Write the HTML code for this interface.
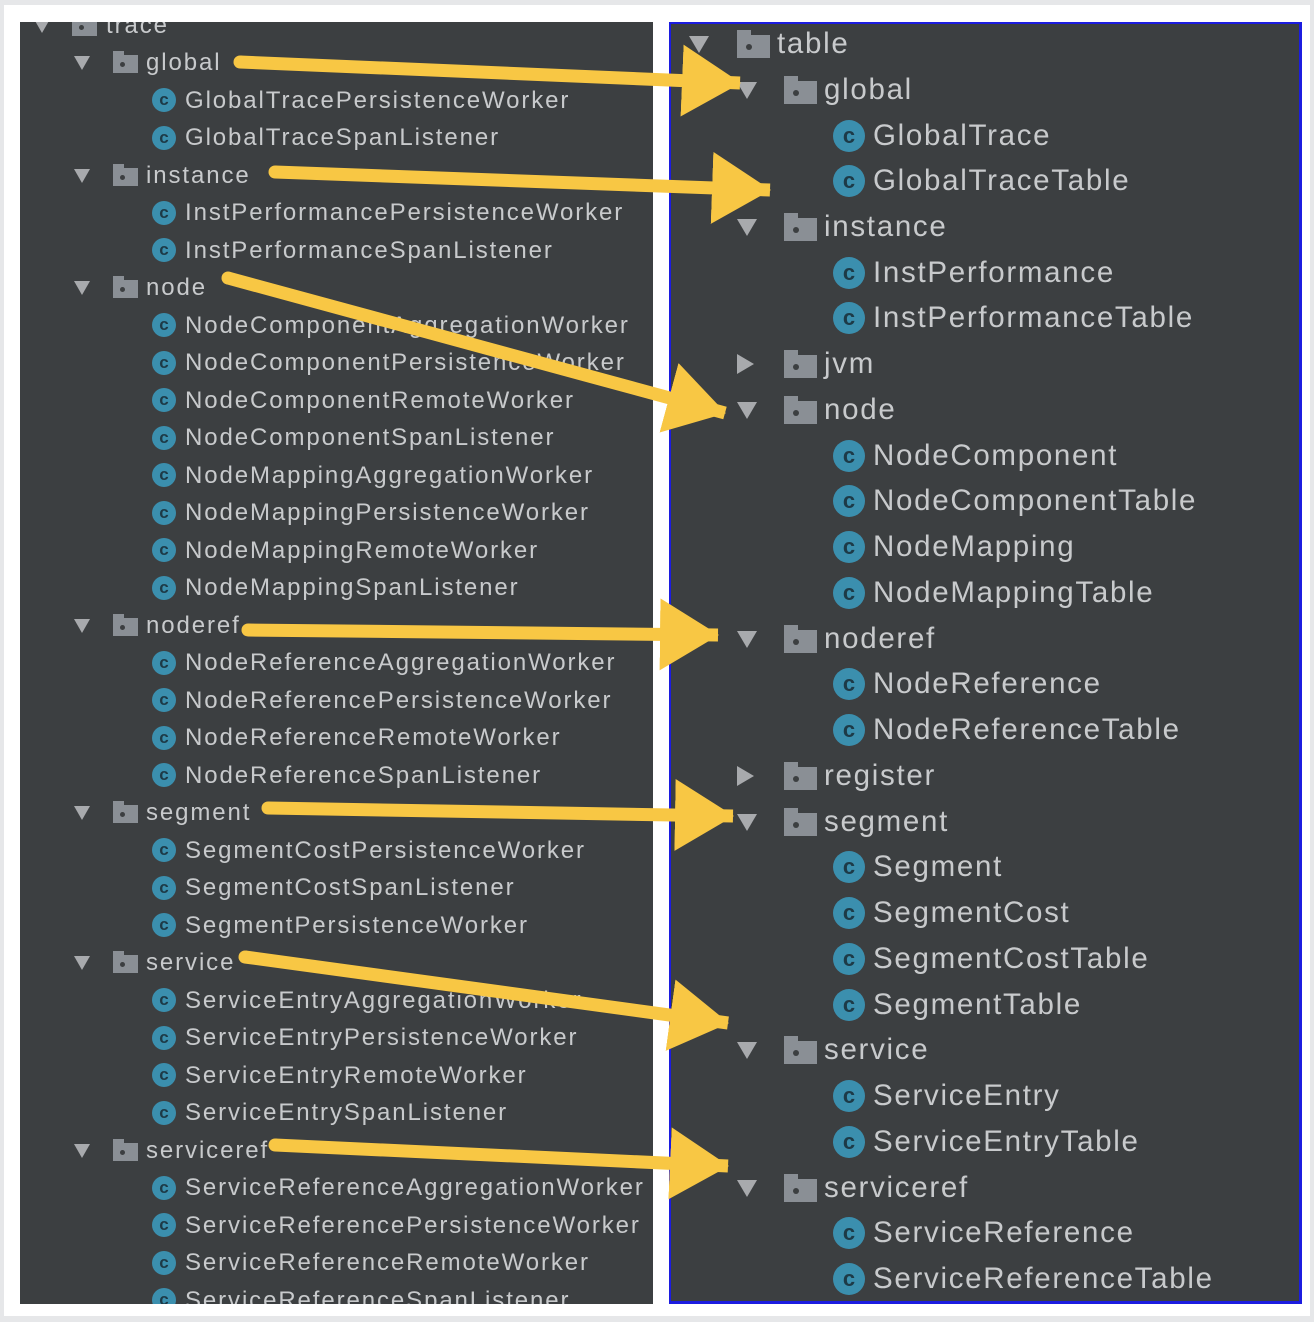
<!DOCTYPE html>
<html><head><meta charset="utf-8"><style>
*{margin:0;padding:0;box-sizing:border-box}
html,body{width:1314px;height:1322px;overflow:hidden;background:#e6e7e9}
#card{position:absolute;left:4px;top:5px;width:1306px;height:1311px;background:#fff}
.p{position:absolute;top:22px;width:633px;height:1282px;background:#3c3f41;overflow:hidden;font-family:"Liberation Sans",sans-serif;color:#c8cacc}
#L{left:20px}
#R{left:669px;border:2px solid #1c1ce0;border-right-width:3px;border-bottom-width:3px}
.r{position:absolute;left:0;width:100%;white-space:nowrap}
#L .r{height:37px;line-height:37px;font-size:24px;letter-spacing:1.9px}
#R .r{height:46px;line-height:46px;font-size:29.5px;letter-spacing:1.7px}
.r>*{position:absolute}
.tri{width:0;height:0;border-left:8px solid transparent;border-right:8px solid transparent;border-top:14px solid #a8aaad;top:12px}
#R .tri{border-left-width:10px;border-right-width:10px;border-top-width:17px;top:15px}
#R .tri.c{border-top:10px solid transparent;border-bottom:10px solid transparent;border-left:17px solid #a8aaad;border-right:0;top:13px}
.fo{width:25px;height:18px;background:#8a8f95;top:11px}
.fo:before{content:"";position:absolute;left:0;top:-4px;width:11px;height:5px;background:#8a8f95}
.fo:after{content:"";position:absolute;left:7px;top:7px;width:5px;height:5px;border-radius:50%;background:#3c3f41}
#R .fo{width:33px;height:23px;top:14px}
#R .fo:before{width:14px;height:6px;top:-5px}
#R .fo:after{left:9px;top:9px;width:6px;height:6px}
.ci{width:24px;height:24px;border-radius:50%;background:#3b8fae;top:6.5px;font-size:17px;line-height:23px;text-align:center;color:#1d3a47;letter-spacing:0;font-weight:bold}
#R .ci{width:32px;height:32px;top:7px;font-size:22px;line-height:31px}
#L .l0 .tri{left:14px}#L .l0 .fo{left:52px}#L .l0 span{left:86px}
#L .l1 .tri{left:54px}#L .l1 .fo{left:93px}#L .l1 span{left:126px}
#L .lc .ci{left:132px}#L .lc span{left:165px}
#R .l0 .tri{left:18px}#R .l0 .fo{left:66px}#R .l0 span{left:106px}
#R .l1 .tri{left:66px}#R .l1 .fo{left:113px}#R .l1 span{left:153px}
#R .lc .ci{left:162px}#R .lc span{left:202px}
svg{position:absolute;left:0;top:0}
</style></head><body>
<div id="card"></div>
<div id="L" class="p">
<div class="r l0" style="top:-15.5px"><i class="tri"></i><b class="fo"></b><span>trace</span></div>
<div class="r l1" style="top:22px"><i class="tri"></i><b class="fo"></b><span>global</span></div>
<div class="r lc" style="top:59.5px"><b class="ci">c</b><span>GlobalTracePersistenceWorker</span></div>
<div class="r lc" style="top:97px"><b class="ci">c</b><span>GlobalTraceSpanListener</span></div>
<div class="r l1" style="top:134.5px"><i class="tri"></i><b class="fo"></b><span>instance</span></div>
<div class="r lc" style="top:172px"><b class="ci">c</b><span>InstPerformancePersistenceWorker</span></div>
<div class="r lc" style="top:209.5px"><b class="ci">c</b><span>InstPerformanceSpanListener</span></div>
<div class="r l1" style="top:247px"><i class="tri"></i><b class="fo"></b><span>node</span></div>
<div class="r lc" style="top:284.5px"><b class="ci">c</b><span>NodeComponentAggregationWorker</span></div>
<div class="r lc" style="top:322px"><b class="ci">c</b><span>NodeComponentPersistenceWorker</span></div>
<div class="r lc" style="top:359.5px"><b class="ci">c</b><span>NodeComponentRemoteWorker</span></div>
<div class="r lc" style="top:397px"><b class="ci">c</b><span>NodeComponentSpanListener</span></div>
<div class="r lc" style="top:434.5px"><b class="ci">c</b><span>NodeMappingAggregationWorker</span></div>
<div class="r lc" style="top:472px"><b class="ci">c</b><span>NodeMappingPersistenceWorker</span></div>
<div class="r lc" style="top:509.5px"><b class="ci">c</b><span>NodeMappingRemoteWorker</span></div>
<div class="r lc" style="top:547px"><b class="ci">c</b><span>NodeMappingSpanListener</span></div>
<div class="r l1" style="top:584.5px"><i class="tri"></i><b class="fo"></b><span>noderef</span></div>
<div class="r lc" style="top:622px"><b class="ci">c</b><span>NodeReferenceAggregationWorker</span></div>
<div class="r lc" style="top:659.5px"><b class="ci">c</b><span>NodeReferencePersistenceWorker</span></div>
<div class="r lc" style="top:697px"><b class="ci">c</b><span>NodeReferenceRemoteWorker</span></div>
<div class="r lc" style="top:734.5px"><b class="ci">c</b><span>NodeReferenceSpanListener</span></div>
<div class="r l1" style="top:772px"><i class="tri"></i><b class="fo"></b><span>segment</span></div>
<div class="r lc" style="top:809.5px"><b class="ci">c</b><span>SegmentCostPersistenceWorker</span></div>
<div class="r lc" style="top:847px"><b class="ci">c</b><span>SegmentCostSpanListener</span></div>
<div class="r lc" style="top:884.5px"><b class="ci">c</b><span>SegmentPersistenceWorker</span></div>
<div class="r l1" style="top:922px"><i class="tri"></i><b class="fo"></b><span>service</span></div>
<div class="r lc" style="top:959.5px"><b class="ci">c</b><span>ServiceEntryAggregationWorker</span></div>
<div class="r lc" style="top:997px"><b class="ci">c</b><span>ServiceEntryPersistenceWorker</span></div>
<div class="r lc" style="top:1034.5px"><b class="ci">c</b><span>ServiceEntryRemoteWorker</span></div>
<div class="r lc" style="top:1072px"><b class="ci">c</b><span>ServiceEntrySpanListener</span></div>
<div class="r l1" style="top:1109.5px"><i class="tri"></i><b class="fo"></b><span>serviceref</span></div>
<div class="r lc" style="top:1147px"><b class="ci">c</b><span>ServiceReferenceAggregationWorker</span></div>
<div class="r lc" style="top:1184.5px"><b class="ci">c</b><span>ServiceReferencePersistenceWorker</span></div>
<div class="r lc" style="top:1222px"><b class="ci">c</b><span>ServiceReferenceRemoteWorker</span></div>
<div class="r lc" style="top:1259.5px"><b class="ci">c</b><span>ServiceReferenceSpanListener</span></div>
</div>
<div id="R" class="p">
<div class="r l0" style="top:-3px"><i class="tri"></i><b class="fo"></b><span>table</span></div>
<div class="r l1" style="top:42.7px"><i class="tri"></i><b class="fo"></b><span>global</span></div>
<div class="r lc" style="top:88.5px"><b class="ci">c</b><span>GlobalTrace</span></div>
<div class="r lc" style="top:134.2px"><b class="ci">c</b><span>GlobalTraceTable</span></div>
<div class="r l1" style="top:180px"><i class="tri"></i><b class="fo"></b><span>instance</span></div>
<div class="r lc" style="top:225.7px"><b class="ci">c</b><span>InstPerformance</span></div>
<div class="r lc" style="top:271.4px"><b class="ci">c</b><span>InstPerformanceTable</span></div>
<div class="r l1" style="top:317.2px"><i class="tri c"></i><b class="fo"></b><span>jvm</span></div>
<div class="r l1" style="top:362.9px"><i class="tri"></i><b class="fo"></b><span>node</span></div>
<div class="r lc" style="top:408.7px"><b class="ci">c</b><span>NodeComponent</span></div>
<div class="r lc" style="top:454.4px"><b class="ci">c</b><span>NodeComponentTable</span></div>
<div class="r lc" style="top:500.1px"><b class="ci">c</b><span>NodeMapping</span></div>
<div class="r lc" style="top:545.9px"><b class="ci">c</b><span>NodeMappingTable</span></div>
<div class="r l1" style="top:591.6px"><i class="tri"></i><b class="fo"></b><span>noderef</span></div>
<div class="r lc" style="top:637.4px"><b class="ci">c</b><span>NodeReference</span></div>
<div class="r lc" style="top:683.1px"><b class="ci">c</b><span>NodeReferenceTable</span></div>
<div class="r l1" style="top:728.8px"><i class="tri c"></i><b class="fo"></b><span>register</span></div>
<div class="r l1" style="top:774.6px"><i class="tri"></i><b class="fo"></b><span>segment</span></div>
<div class="r lc" style="top:820.3px"><b class="ci">c</b><span>Segment</span></div>
<div class="r lc" style="top:866.1px"><b class="ci">c</b><span>SegmentCost</span></div>
<div class="r lc" style="top:911.8px"><b class="ci">c</b><span>SegmentCostTable</span></div>
<div class="r lc" style="top:957.5px"><b class="ci">c</b><span>SegmentTable</span></div>
<div class="r l1" style="top:1003.3px"><i class="tri"></i><b class="fo"></b><span>service</span></div>
<div class="r lc" style="top:1049px"><b class="ci">c</b><span>ServiceEntry</span></div>
<div class="r lc" style="top:1094.8px"><b class="ci">c</b><span>ServiceEntryTable</span></div>
<div class="r l1" style="top:1140.5px"><i class="tri"></i><b class="fo"></b><span>serviceref</span></div>
<div class="r lc" style="top:1186.2px"><b class="ci">c</b><span>ServiceReference</span></div>
<div class="r lc" style="top:1232px"><b class="ci">c</b><span>ServiceReferenceTable</span></div>
</div>
<svg width="1314" height="1322" viewBox="0 0 1314 1322">
<defs><marker id="a" markerUnits="userSpaceOnUse" markerWidth="60" markerHeight="76" viewBox="0 -38 60 76" refX="58" refY="0" orient="auto"><path d="M0,-36 L59,0 L0,36 z" fill="#f8c744"/></marker></defs>
<g stroke="#f8c744" stroke-width="13" fill="none" marker-end="url(#a)">
<line x1="240" y1="62" x2="740" y2="83"/>
<line x1="275" y1="172" x2="770" y2="190"/>
<line x1="228" y1="278" x2="725" y2="413"/>
<line x1="248" y1="630" x2="718" y2="635"/>
<line x1="268" y1="808" x2="733" y2="816"/>
<line x1="245" y1="957" x2="728" y2="1023"/>
<line x1="275" y1="1145" x2="728" y2="1166"/>
</g>
<g fill="#f8c744"><circle cx="240" cy="62" r="6.5"/><circle cx="275" cy="172" r="6.5"/><circle cx="228" cy="278" r="6.5"/><circle cx="248" cy="630" r="6.5"/><circle cx="268" cy="808" r="6.5"/><circle cx="245" cy="957" r="6.5"/><circle cx="275" cy="1145" r="6.5"/></g>
</svg>
</body></html>
